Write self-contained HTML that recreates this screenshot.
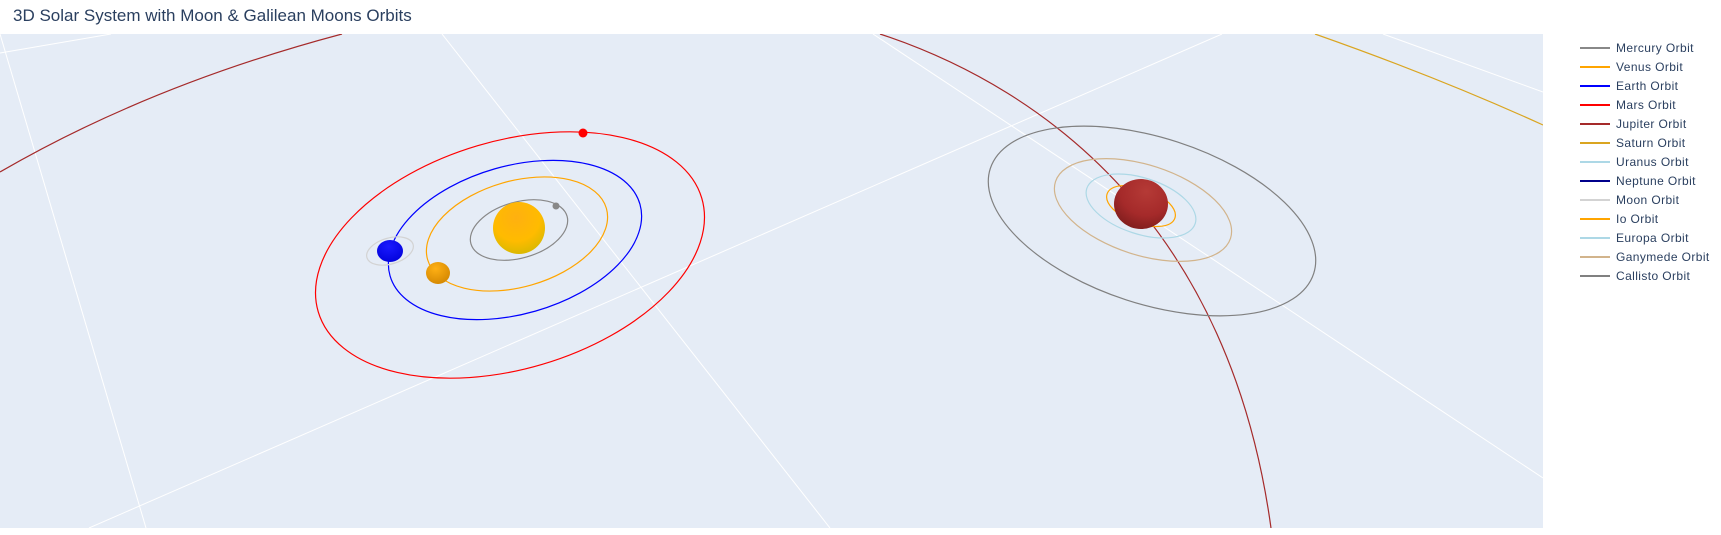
<!DOCTYPE html>
<html><head><meta charset="utf-8"><style>
html,body{margin:0;padding:0;background:#fff;width:1721px;height:535px;overflow:hidden;font-family:"Liberation Sans",sans-serif}
</style></head><body>
<svg id="chart" width="1721" height="535" xmlns="http://www.w3.org/2000/svg">
<defs>
<clipPath id="clip"><rect x="0" y="34" width="1543" height="494"/></clipPath>
<radialGradient id="sunG" cx="0.45" cy="0.3" r="0.75"><stop offset="0" stop-color="#ffb010"/><stop offset="0.6" stop-color="#ffbb00"/><stop offset="1" stop-color="#d4b800"/></radialGradient>
<radialGradient id="jupG" cx="0.6" cy="0.25" r="0.8"><stop offset="0" stop-color="#b53a36"/><stop offset="0.6" stop-color="#a52a2a"/><stop offset="1" stop-color="#7e1d1d"/></radialGradient>
<radialGradient id="venG" cx="0.4" cy="0.3" r="0.8"><stop offset="0" stop-color="#ffb014"/><stop offset="1" stop-color="#d08400"/></radialGradient>
<radialGradient id="earG" cx="0.45" cy="0.3" r="0.8"><stop offset="0" stop-color="#1a1aff"/><stop offset="1" stop-color="#0000d8"/></radialGradient>
</defs>
<text x="13" y="21" font-size="17" fill="#2a3f5f">3D Solar System with Moon &amp; Galilean Moons Orbits</text>
<rect x="0" y="34" width="1543" height="494" fill="#e5ecf6"/>
<g id="scene" clip-path="url(#clip)"></g>
<g id="legend"></g>
</svg>
<script>
const NS="http://www.w3.org/2000/svg";
const orbitNames=["Mercury Orbit","Venus Orbit","Earth Orbit","Mars Orbit","Jupiter Orbit","Saturn Orbit","Uranus Orbit","Neptune Orbit","Moon Orbit","Io Orbit","Europa Orbit","Ganymede Orbit","Callisto Orbit"];
const orbitColors=["#888888","orange","blue","red","brown","goldenrod","lightblue","darkblue","lightgray","orange","lightblue","tan","gray"];
const ellNames=["mercury","venus","earth","mars","moon","io","europa","ganymede","callisto"];
const ellColor=["#888888","orange","blue","red","#d3d3d3","orange","lightblue","tan","gray"];
const ellCx=[519,517,515,510,390,1141,1141,1143,1152];
const ellCy=[230,234,240,255,251,206,206,210,221];
const ellA=[50,93,130,200,24,36,57,92,170];
const ellB=[28,53,74,114,13,17.5,28,45,83];
const ellRot=[-16,-16,-16,-16.5,-16,20,18,18,18];
const grid=[[0,34,146,528],[442,34,830,528],[89,528,1222,34],[873,34,1543,478],[0,53,111,34],[1383,34,1543,92]];
const scene=document.getElementById('scene');
function mk(t,a){const e=document.createElementNS(NS,t);for(const k in a)e.setAttribute(k,a[k]);return e;}
grid.forEach((g,i)=>{const l=mk('line',{x1:g[0],y1:g[1],x2:g[2],y2:g[3],stroke:'#fff','stroke-width':1});

scene.appendChild(l);});
const curves=[['M0,172 Q150,85 342,34','brown','jupiter-orbit-left'],['M880,34 C1050,90 1230,230 1271,528','brown','jupiter-orbit-right'],['M1315,34 Q1440,78 1543,125','goldenrod','saturn-orbit']];
curves.forEach(p=>{
const e=mk('path',{d:p[0],fill:'none',stroke:p[1],'stroke-width':1.2});

scene.appendChild(e);});
ellNames.forEach((n,i)=>{const e=mk('ellipse',{cx:ellCx[i],cy:ellCy[i],rx:ellA[i],ry:ellB[i],fill:'none',stroke:ellColor[i],'stroke-width':1.2,transform:`rotate(${ellRot[i]} ${ellCx[i]} ${ellCy[i]})`});

scene.appendChild(e);});
const bodyNames=["sun","jupiter","venus","earth","mercury","mars"];
const bodyX=[519,1141,438,390,556,583];const bodyY=[228,204,273,251,206,133];
const bodyRx=[26,27,12,13,3.5,4.5];const bodyRy=[26,25,11,11,3.5,4.5];
const bodyFill=["url(#sunG)","url(#jupG)","url(#venG)","url(#earG)","#888888","red"];
bodyNames.forEach((n,i)=>{const e=mk('ellipse',{cx:bodyX[i],cy:bodyY[i],rx:bodyRx[i],ry:bodyRy[i],fill:bodyFill[i]});

scene.appendChild(e);});
const lg=document.getElementById('legend');
orbitNames.forEach((n,i)=>{const y=48+19*i;const g=mk('g',{});


g.appendChild(mk('line',{x1:1580,y1:y,x2:1610,y2:y,stroke:orbitColors[i],'stroke-width':2}));
const t=mk('text',{x:1616,y:y+4,'font-size':12,fill:'#2a3f5f','letter-spacing':0.4});t.textContent=n;g.appendChild(t);lg.appendChild(g);});
</script>
</body></html>
